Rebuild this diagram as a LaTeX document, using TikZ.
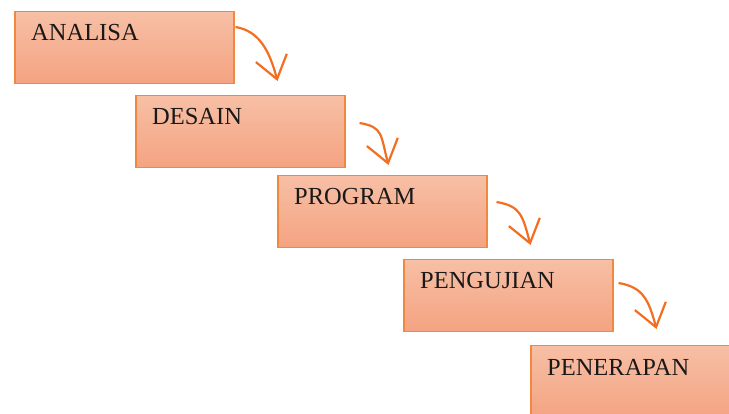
\documentclass[tikz,border=0pt]{standalone}
\usepackage{fontspec}
\setmainfont{Liberation Serif}
\usetikzlibrary{arrows.meta,calc}
\definecolor{boxedge}{HTML}{F0883F}
\definecolor{boxtop}{HTML}{F7BFA5}
\definecolor{boxbot}{HTML}{F4A381}
\definecolor{arroworange}{HTML}{F26F22}
\newcommand{\tahap}[5]{%
  % name, x, y, width, label text.
  \node[draw=boxedge, line width=1.5pt, top color=boxtop, bottom color=boxbot,
        anchor=north west, minimum width=#4pt, minimum height=72pt, inner sep=0pt]
        (#1) at (#2,#3) {};
  \node[anchor=base west, inner sep=0pt, font=\fontsize{24.5}{28}\selectfont, text=black!90]
        (#1-txt) at ($(#1.north west)+(17,30)$) {#5};
}

\begin{document}
\begin{tikzpicture}[x=1pt,y=-1pt]
  \useasboundingbox (0,0) rectangle (729,414);
  \clip (0,0) rectangle (729,414);
  \foreach \n/\x/\y/\w/\t in {1/14/11/219/ANALISA,2/135/95/209/DESAIN,3/277/175/209/PROGRAM,
                              4/403/259/209/PENGUJIAN,5/530/345/209/PENERAPAN}{%
    \tahap{tahap\n}{\x}{\y}{\w}{\t}
  }
  \foreach \i/\dx/\dy in {1/1/16,2/14/28,3/9/27,4/5/24}{%
    \coordinate (ujung\i) at ($(tahap\i.north east)+(43,70)$);
    \draw[arroworange, line width=2.2pt, -{Straight Barb[length=22pt,width=32pt]}]
      ($(tahap\i.north east)+(\dx,\dy)$) .. controls +(24,4) and +(-8,-30) .. (ujung\i);
  }
\end{tikzpicture}
\end{document}
